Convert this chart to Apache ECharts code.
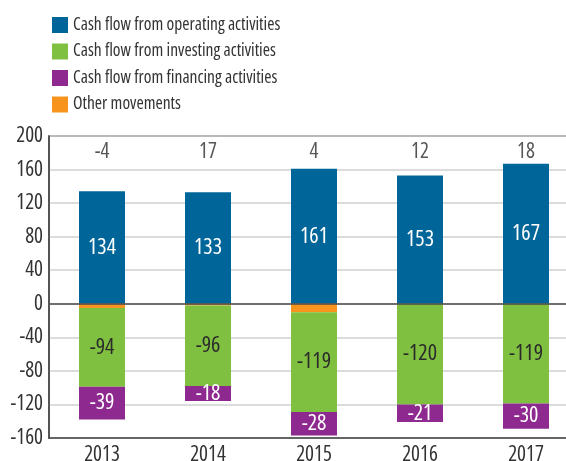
<!DOCTYPE html>
<html><head><meta charset="utf-8">
<script src="https://cdn.jsdelivr.net/npm/echarts@6/dist/echarts.min.js"></script>
<style>html,body{margin:0;padding:0;background:#fff}#c{width:566px;height:461px}</style>
</head><body><div id="c"></div>
<script>
const years = ['2013','2014','2015','2016','2017'];
const operating = [134, 133, 161, 153, 167];
const investing = [-94, -96, -119, -120, -119];
const financing = [-39, -18, -28, -21, -30];
const other = [-5, -2, -10, 0, 0];
const totals = [-4, 17, 4, 12, 18];
const yTicks = [-160, -120, -80, -40, 0, 40, 80, 120, 160, 200];

const FONT = '"Open Sans",sans-serif';
const STRETCH = 'condensed';
const TXT = '#333333';
const names = ['Cash flow from operating activities','Cash flow from investing activities','Cash flow from financing activities','Other movements'];
const colors = {op:'#006699', inv:'#80c041', fin:'#8e2a8f', oth:'#f7941d'};

function barLabel(color){
  return {show:true, position:'inside', color:color, fontFamily:FONT, fontStyle:STRETCH, fontSize:22,
    formatter:p => (p.value === 0 ? '' : String(p.value))};
}
const chart = echarts.init(document.getElementById('c'), null, {renderer:'canvas'});
chart.setOption({
  animation:false,
  textStyle:{fontFamily:FONT},
  legend:{
    orient:'vertical', left:47, top:11, itemWidth:16, itemHeight:16, itemGap:8.5,
    icon:'rect', data:names,
    textStyle:{fontFamily:FONT, fontStyle:STRETCH, fontSize:17.5, color:TXT}
  },
  grid:{left:49, width:530, top:136, height:302, outerBoundsMode:'none', containLabel:false,
    show:true, borderColor:'#4a4a4a', borderWidth:1.5},
  xAxis:{type:'category', data:years,
    axisLine:{show:true, onZero:false, lineStyle:{color:'#4a4a4a', width:1.5}},
    axisTick:{show:false},
    axisLabel:{color:TXT, fontFamily:FONT, fontStyle:STRETCH, fontSize:21, margin:7}},
  yAxis:{type:'value', min:yTicks[0], max:yTicks[yTicks.length-1], interval:40,
    axisLine:{show:true, lineStyle:{color:'#4a4a4a', width:1.5}},
    axisTick:{show:false},
    splitLine:{lineStyle:{color:'#d0d0d0', width:1.5}},
    axisLabel:{color:TXT, fontFamily:FONT, fontStyle:STRETCH, fontSize:21, margin:6}},
  series:[
    {name:names[0], type:'bar', stack:'s', data:operating, barWidth:46,
      itemStyle:{color:colors.op}, label:barLabel('#ffffff'),
      markLine:{silent:true, symbol:'none', label:{show:false},
        lineStyle:{color:'#4a4a4a', width:1.5, type:'solid'}, data:[{yAxis:0}]}},
    {name:names[3], type:'bar', stack:'s', data:other, barWidth:46,
      itemStyle:{color:colors.oth}},
    {name:names[1], type:'bar', stack:'s', data:investing, barWidth:46,
      itemStyle:{color:colors.inv}, label:barLabel('#2a2a2a')},
    {name:names[2], type:'bar', stack:'s', data:financing, barWidth:46,
      itemStyle:{color:colors.fin}, label:barLabel('#ffffff')},
    {name:'totals', type:'scatter', symbolSize:0, silent:true,
      data:totals.map(() => 181),
      label:{show:true, position:'inside', color:'#2a2a2a', fontFamily:FONT, fontStyle:STRETCH, fontSize:21,
        formatter:p => String(totals[p.dataIndex])}}
  ]
});
</script></body></html>
